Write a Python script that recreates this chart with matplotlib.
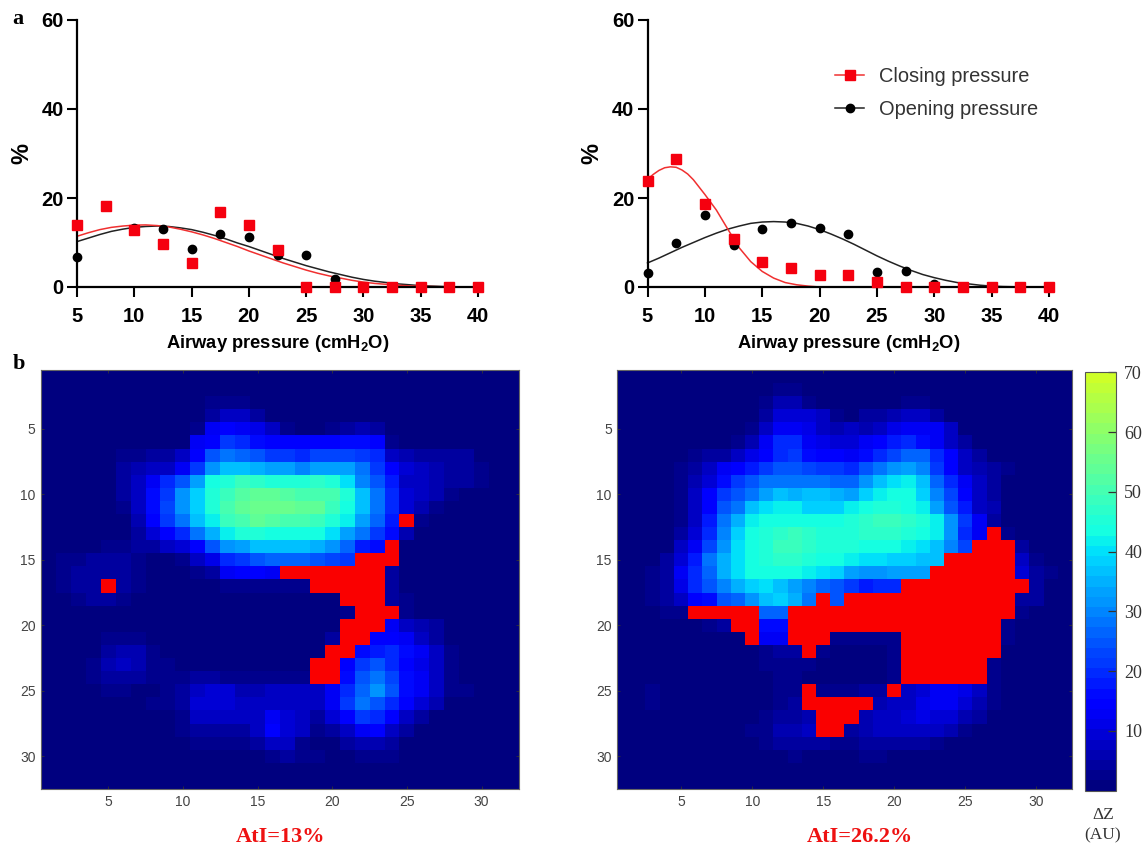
import numpy as np
import matplotlib
matplotlib.use('Agg')
import matplotlib.pyplot as plt
from matplotlib.colors import ListedColormap

W, H = 1146, 850
R = -1  # atelectasis pixel (red)

# a: scatter points
pressure = [5, 7.5, 10, 12.5, 15, 17.5, 20, 22.5, 25, 27.5, 30, 32.5, 35, 37.5, 40]
left_closing = [13.9, 18.2, 12.7, 9.7, 5.5, 16.8, 13.9, 8.3, 0, 0, 0, 0, 0, 0, 0]
left_opening = [6.7, 18.2, 13.2, 13.0, 8.5, 11.9, 11.2, 7.2, 7.3, 1.7, 0, 0, 0, 0, 0]
right_closing = [23.8, 28.8, 18.7, 10.8, 5.7, 4.2, 2.8, 2.8, 1.2, 0, 0, 0, 0, 0, 0]
right_opening = [3.1, 9.8, 16.2, 9.4, 13.0, 14.3, 13.3, 11.9, 3.4, 3.7, 0.6, 0, 0, 0, 0]

# a: fitted curves
curve_x = [5, 6, 7, 8, 9, 10, 11, 12, 13, 14, 15, 16, 17, 18, 19, 20, 21, 22, 23, 24, 25, 26,
           27, 28, 29, 30, 31, 32, 33, 34, 35, 36, 37, 38, 40]
left_closing_fit = [11.4, 12.2, 12.9, 13.4, 13.7, 13.9, 13.95, 13.8, 13.5, 13.0, 12.4, 11.7, 10.9,
                    10.0, 9.1, 8.1, 7.2, 6.3, 5.4, 4.6, 3.8, 3.1, 2.5, 2.0, 1.5, 1.1, 0.8, 0.6,
                    0.4, 0.25, 0.15, 0.1, 0.05, 0, 0]
left_opening_fit = [10.2, 11.0, 11.8, 12.5, 13.0, 13.4, 13.6, 13.7, 13.6, 13.3, 12.9, 12.3, 11.6,
                    10.8, 9.9, 9.1, 8.2, 7.3, 6.4, 5.6, 4.8, 4.1, 3.4, 2.8, 2.2, 1.7, 1.3, 1.0,
                    0.7, 0.5, 0.3, 0.2, 0.1, 0.05, 0]
right_opening_fit = [5.4, 6.5, 7.7, 8.9, 10.0, 11.1, 12.1, 13.0, 13.7, 14.3, 14.6, 14.7, 14.6,
                     14.3, 13.7, 12.9, 11.9, 10.8, 9.6, 8.3, 7.0, 5.8, 4.7, 3.7, 2.8, 2.1, 1.5,
                     1.0, 0.7, 0.4, 0.2, 0.1, 0.05, 0, 0]
right_closing_x = [5, 5.5, 6, 6.5, 7, 7.5, 8, 8.5, 9, 10, 11, 12, 13, 14, 15, 16, 17, 18, 19, 20, 40]
right_closing_fit = [24.2, 25.3, 26.2, 26.8, 27.0, 26.9, 26.3, 25.4, 24.1, 20.8, 17.3, 13.0, 8.8,
                     5.7, 3.5, 2.0, 1.0, 0.5, 0.2, 0, 0]

# b: left map
map_left = [
    [1] * 32,
    [1] * 32,
    [1, 1, 1, 1, 1, 1, 1, 1, 1, 1, 1, 3, 3, 3, 1, 1, 1, 1, 1, 1, 1, 1, 1, 1, 1, 1, 1, 1, 1, 1, 1, 1],
    [1, 1, 1, 1, 1, 1, 1, 1, 1, 1, 1, 5, 7, 7, 5, 1, 1, 1, 1, 1, 1, 1, 1, 1, 1, 1, 1, 1, 1, 1, 1, 1],
    [1, 1, 1, 1, 1, 1, 1, 1, 1, 1, 3, 12, 14, 13, 11, 8, 3, 1, 1, 3, 5, 6, 5, 1, 1, 1, 1, 1, 1, 1, 1, 1],
    [1, 1, 1, 1, 1, 1, 1, 1, 1, 1, 12, 15, 21, 19, 17, 15, 15, 14, 15, 15, 16, 16, 15, 3, 1, 1, 1, 1, 1, 1, 1, 1],
    [1, 1, 1, 1, 1, 3, 3, 4, 5, 8, 15, 25, 28, 26, 25, 22, 22, 20, 23, 23, 23, 22, 19, 7, 6, 5, 5, 4, 4, 1, 1, 1],
    [1, 1, 1, 1, 1, 4, 6, 7, 8, 13, 22, 31, 36, 36, 35, 34, 33, 30, 33, 33, 33, 29, 22, 14, 9, 7, 6, 5, 5, 3, 1, 1],
    [1, 1, 1, 1, 1, 4, 7, 13, 19, 24, 34, 43, 46, 48, 47, 46, 45, 46, 47, 46, 40, 30, 25, 18, 8, 7, 6, 5, 4, 3, 1, 1],
    [1, 1, 1, 1, 1, 4, 8, 16, 21, 31, 39, 45, 49, 52, 53, 53, 52, 51, 50, 50, 45, 36, 28, 19, 10, 7, 6, 3, 1, 1, 1, 1],
    [1, 1, 1, 1, 1, 3, 8, 17, 23, 32, 38, 46, 50, 54, 56, 56, 55, 54, 53, 49, 44, 36, 28, 20, 10, 6, 3, 1, 1, 1, 1, 1],
    [1, 1, 1, 1, 1, 1, 6, 14, 22, 28, 36, 42, 48, 50, 53, 52, 51, 51, 49, 46, 41, 33, 26, 18, R, 3, 1, 1, 1, 1, 1, 1],
    [1, 1, 1, 1, 1, 1, 4, 9, 14, 20, 29, 35, 42, 45, 45, 44, 44, 44, 43, 40, 34, 29, 22, 16, 6, 1, 1, 1, 1, 1, 1, 1],
    [1, 1, 1, 1, 2, 3, 4, 5, 7, 9, 14, 24, 31, 33, 36, 36, 37, 36, 35, 31, 27, 18, 16, R, 1, 1, 1, 1, 1, 1, 1, 1],
    [1, 3, 3, 4, 5, 5, 3, 1, 1, 3, 7, 11, 19, 21, 25, 26, 27, 26, 25, 23, 21, R, R, R, 1, 1, 1, 1, 1, 1, 1, 1],
    [1, 3, 4, 5, 5, 5, 3, 1, 1, 1, 2, 5, 13, 14, 14, 12, R, R, R, R, R, R, R, 5, 1, 1, 1, 1, 1, 1, 1, 1],
    [1, 3, 4, 5, R, 4, 2, 1, 1, 1, 1, 1, 2, 3, 3, 3, 3, 3, R, R, R, R, R, 4, 1, 1, 1, 1, 1, 1, 1, 1],
    [1, 1, 2, 4, 5, 2, 1, 1, 1, 1, 1, 1, 1, 1, 1, 1, 1, 1, 1, 1, R, R, R, 4, 3, 1, 1, 1, 1, 1, 1, 1],
    [1, 1, 1, 1, 1, 1, 1, 1, 1, 1, 1, 1, 1, 1, 1, 1, 1, 1, 1, 1, 3, R, R, R, 2, 1, 1, 1, 1, 1, 1, 1],
    [1, 1, 1, 1, 1, 1, 1, 1, 1, 1, 1, 1, 1, 1, 1, 1, 1, 1, 1, 1, R, R, R, 12, 8, 6, 4, 1, 1, 1, 1, 1],
    [1, 1, 1, 1, 3, 3, 2, 1, 1, 1, 1, 1, 1, 1, 1, 1, 1, 1, 1, 4, R, R, 14, 15, 13, 8, 4, 1, 1, 1, 1, 1],
    [1, 1, 1, 1, 4, 6, 6, 2, 1, 1, 1, 1, 1, 1, 1, 1, 1, 1, 1, R, R, 17, 18, 19, 16, 12, 8, 3, 1, 1, 1, 1],
    [1, 1, 1, 3, 6, 7, 6, 3, 2, 1, 1, 1, 1, 1, 1, 1, 1, 1, R, R, 15, 22, 24, 20, 15, 11, 8, 3, 1, 1, 1, 1],
    [1, 1, 1, 2, 4, 4, 4, 3, 2, 3, 4, 4, 3, 2, 2, 2, 2, 3, R, R, 17, 25, 29, 23, 17, 12, 8, 3, 1, 1, 1, 1],
    [1, 1, 1, 1, 2, 3, 1, 1, 3, 4, 8, 9, 9, 6, 6, 7, 7, 7, 7, 13, 20, 27, 31, 25, 17, 12, 7, 3, 3, 1, 1, 1],
    [1, 1, 1, 1, 1, 1, 1, 2, 3, 5, 9, 10, 9, 7, 7, 8, 8, 7, 7, 12, 21, 28, 25, 20, 14, 9, 6, 1, 1, 1, 1, 1],
    [1, 1, 1, 1, 1, 1, 1, 1, 1, 3, 8, 8, 7, 7, 7, 13, 9, 7, 5, 9, 15, 21, 20, 14, 8, 4, 1, 1, 1, 1, 1, 1],
    [1, 1, 1, 1, 1, 1, 1, 1, 1, 2, 5, 5, 5, 5, 8, 15, 9, 7, 3, 4, 7, 13, 15, 8, 4, 1, 1, 1, 1, 1, 1, 1],
    [1, 1, 1, 1, 1, 1, 1, 1, 1, 1, 3, 3, 2, 3, 5, 8, 7, 3, 1, 1, 4, 6, 6, 5, 1, 1, 1, 1, 1, 1, 1, 1],
    [1, 1, 1, 1, 1, 1, 1, 1, 1, 1, 1, 1, 1, 1, 1, 3, 4, 3, 2, 1, 1, 2, 3, 2, 1, 1, 1, 1, 1, 1, 1, 1],
    [1] * 32,
    [1] * 32,
]

# b: right map
map_right = [
    [1] * 32,
    [1, 1, 1, 1, 1, 1, 1, 1, 1, 1, 1, 2, 2, 1, 1, 1, 1, 1, 1, 1, 1, 1, 1, 1, 1, 1, 1, 1, 1, 1, 1, 1],
    [1, 1, 1, 1, 1, 1, 1, 1, 1, 1, 3, 6, 6, 3, 1, 1, 1, 1, 1, 1, 3, 3, 1, 1, 1, 1, 1, 1, 1, 1, 1, 1],
    [1, 1, 1, 1, 1, 1, 1, 1, 1, 1, 5, 9, 9, 9, 7, 3, 1, 4, 5, 6, 7, 7, 4, 1, 1, 1, 1, 1, 1, 1, 1, 1],
    [1, 1, 1, 1, 1, 1, 1, 1, 1, 3, 8, 13, 13, 11, 7, 6, 7, 6, 8, 11, 13, 12, 13, 7, 1, 1, 1, 1, 1, 1, 1, 1],
    [1, 1, 1, 1, 1, 1, 1, 1, 2, 6, 12, 19, 19, 13, 11, 10, 9, 12, 14, 18, 19, 17, 12, 7, 4, 1, 1, 1, 1, 1, 1, 1],
    [1, 1, 1, 1, 1, 3, 4, 4, 7, 11, 15, 20, 21, 17, 15, 14, 13, 16, 19, 23, 26, 26, 20, 14, 8, 4, 1, 1, 1, 1, 1, 1],
    [1, 1, 1, 1, 2, 5, 8, 13, 14, 18, 21, 24, 25, 23, 22, 21, 20, 25, 28, 32, 33, 30, 22, 14, 8, 6, 4, 2, 1, 1, 1, 1],
    [1, 1, 1, 1, 2, 6, 10, 17, 21, 24, 28, 28, 29, 28, 28, 27, 27, 31, 36, 40, 41, 36, 27, 20, 12, 7, 4, 1, 1, 1, 1, 1],
    [1, 1, 1, 1, 2, 7, 14, 22, 24, 29, 34, 36, 35, 36, 36, 35, 33, 39, 42, 43, 43, 39, 30, 23, 15, 8, 5, 1, 1, 1, 1, 1],
    [1, 1, 1, 1, 2, 7, 15, 24, 29, 37, 40, 41, 41, 39, 38, 38, 41, 44, 45, 45, 44, 42, 34, 25, 18, 8, 6, 1, 1, 1, 1, 1],
    [1, 1, 1, 1, 3, 8, 18, 28, 35, 42, 44, 44, 44, 44, 44, 44, 45, 47, 48, 48, 47, 45, 41, 31, 21, 12, 4, 1, 1, 1, 1, 1],
    [1, 1, 1, 1, 4, 9, 19, 30, 38, 44, 45, 47, 48, 47, 46, 46, 46, 47, 47, 47, 45, 43, 41, 32, 19, 13, R, 3, 1, 1, 1, 1],
    [1, 1, 1, 1, 7, 13, 23, 32, 40, 44, 46, 49, 49, 47, 46, 45, 45, 43, 44, 43, 42, 40, 36, 30, 23, R, R, R, 5, 1, 1, 1],
    [1, 1, 1, 4, 10, 18, 28, 35, 40, 44, 46, 47, 47, 45, 44, 43, 42, 40, 40, 39, 38, 37, 37, R, R, R, R, R, 8, 3, 1, 1],
    [1, 1, 2, 4, 12, 20, 27, 35, 40, 43, 44, 44, 43, 41, 40, 38, 34, 31, 32, 33, 34, 34, R, R, R, R, R, R, 9, 4, 3, 1],
    [1, 1, 3, 5, 11, 19, 24, 30, 35, 38, 40, 37, 34, 30, 27, 25, 21, 18, 19, 20, R, R, R, R, R, R, R, R, R, 4, 1, 1],
    [1, 1, 3, 4, 8, 14, 16, 24, 27, 31, 36, 38, 35, 28, R, 25, R, R, R, R, R, R, R, R, R, R, R, R, 5, 4, 1, 1],
    [1, 1, 1, 2, 3, R, R, R, R, R, 26, 26, R, R, R, R, R, R, R, R, R, R, R, R, R, R, R, R, 3, 1, 1, 1],
    [1, 1, 1, 1, 1, 1, 2, 4, R, R, 17, 17, R, R, R, R, R, R, R, R, R, R, R, R, R, R, R, 3, 1, 1, 1, 1],
    [1, 1, 1, 1, 1, 1, 1, 1, 1, R, 12, 13, R, R, R, 3, 3, 2, 2, 3, R, R, R, R, R, R, R, 3, 1, 1, 1, 1],
    [1, 1, 1, 1, 1, 1, 1, 1, 1, 1, 3, 4, 4, R, 3, 1, 1, 1, 1, 3, R, R, R, R, R, R, R, 1, 1, 1, 1, 1],
    [1, 1, 1, 1, 1, 1, 1, 1, 1, 1, 2, 3, 2, 2, 1, 1, 1, 1, 1, 3, R, R, R, R, R, R, 3, 1, 1, 1, 1, 1],
    [1, 1, 1, 1, 1, 1, 1, 1, 1, 1, 1, 2, 3, 1, 1, 1, 1, 1, 1, 3, R, R, R, R, R, R, 2, 1, 1, 1, 1, 1],
    [1, 1, 3, 1, 1, 1, 1, 1, 1, 1, 1, 2, 3, R, 2, 3, 3, 4, 5, R, 8, 10, 13, 13, 11, 7, 3, 1, 1, 1, 1, 1],
    [1, 1, 3, 1, 1, 1, 1, 1, 1, 1, 1, 3, 4, R, R, R, R, R, 6, 7, 8, 11, 13, 13, 10, 6, 2, 1, 1, 1, 1, 1],
    [1, 1, 1, 1, 1, 1, 1, 1, 1, 1, 3, 4, 5, 6, R, R, R, 6, 8, 8, 9, 11, 10, 9, 6, 4, 1, 1, 1, 1, 1, 1],
    [1, 1, 1, 1, 1, 1, 1, 1, 1, 2, 3, 6, 6, 7, R, R, 5, 6, 7, 8, 8, 8, 8, 6, 3, 1, 1, 1, 1, 1, 1, 1],
    [1, 1, 1, 1, 1, 1, 1, 1, 1, 1, 3, 4, 5, 5, 5, 3, 3, 5, 5, 5, 4, 4, 3, 1, 1, 1, 1, 1, 1, 1, 1, 1],
    [1, 1, 1, 1, 1, 1, 1, 1, 1, 1, 1, 1, 2, 1, 1, 1, 1, 2, 2, 1, 1, 1, 1, 1, 1, 1, 1, 1, 1, 1, 1, 1],
    [1] * 32,
    [1] * 32,
]

map_ticks = [5, 10, 15, 20, 25, 30]
bar_ticks = [10, 20, 30, 40, 50, 60, 70]


def axes_px(fig, left, top, right, bottom):
    return fig.add_axes([left / W, 1 - bottom / H, (right - left) / W, (bottom - top) / H])


def plot_curves(ax, closing, opening, closing_x, closing_fit, opening_fit):
    ax.plot(curve_x, opening_fit, color='#222222', lw=1.1, clip_on=False)
    ax.plot(pressure, opening, 'o', color='black', ms=6, clip_on=False, zorder=3)
    ax.plot(closing_x, closing_fit, color='#f03030', lw=1.1, clip_on=False)
    ax.plot(pressure, closing, 's', color='#f5000f', ms=6.5, clip_on=False, zorder=4)
    ax.set_xlim(5, 40)
    ax.set_ylim(0, 60)
    ax.set_xticks(range(5, 41, 5))
    ax.set_yticks([0, 20, 40, 60])
    ax.spines[['top', 'right']].set_visible(False)
    ax.spines[['left', 'bottom']].set_linewidth(1.6)
    ax.tick_params(width=1.5, length=7.5, labelsize=14.5)
    ax.tick_params(axis='x', pad=7)
    ax.tick_params(axis='y', pad=2)
    for t in ax.get_xticklabels() + ax.get_yticklabels():
        t.set_fontweight('bold')
    ax.set_xlabel('Airway pressure (cmH$_\\mathbf{2}$O)', fontweight='bold', fontsize=13.2, labelpad=5)
    ax.set_ylabel('%', fontweight='bold', fontsize=17, labelpad=6)


def plot_map(ax, values, cmap):
    im = ax.imshow(np.array(values), cmap=cmap, vmin=0, vmax=70, aspect='auto',
                   interpolation='nearest', extent=(0.5, 32.5, 32.5, 0.5))
    ax.set_xticks(map_ticks)
    ax.set_yticks(map_ticks)
    ax.tick_params(direction='in', length=2.5, width=0.6, top=True, right=True, labelsize=10,
                   labelcolor='#444444', color='#333333', pad=4)
    for s in ax.spines.values():
        s.set_color('#666666')
        s.set_linewidth(0.8)
    return im


plt.rcParams['font.family'] = ['Liberation Sans', 'DejaVu Sans']
plt.rcParams['mathtext.fontset'] = 'custom'
plt.rcParams['mathtext.bf'] = 'Liberation Sans:bold'
plt.rcParams['mathtext.rm'] = 'Liberation Sans'

cmap = ListedColormap(plt.get_cmap('jet')(np.linspace(0, 0.6, 41)))
cmap.set_under('#fa0000')

fig = plt.figure(figsize=(W / 100, H / 100), dpi=100)

ax1 = axes_px(fig, 77, 20, 478, 287)
plot_curves(ax1, left_closing, left_opening, curve_x, left_closing_fit, left_opening_fit)

ax2 = axes_px(fig, 647.5, 20, 1049, 287)
plot_curves(ax2, right_closing, right_opening, right_closing_x, right_closing_fit, right_opening_fit)
h_close, = ax2.plot([], [], '-s', color='#f03030', mfc='#f5000f', mec='#f5000f', lw=1.1, ms=6.5)
h_open, = ax2.plot([], [], '-o', color='#222222', mfc='black', mec='black', lw=1.1, ms=6)
ax2.legend([h_close, h_open], ['Closing pressure', 'Opening pressure'], loc='upper left',
           bbox_to_anchor=(835 / W, 1 - 67 / H), bbox_transform=fig.transFigure, frameon=False,
           fontsize=14.4, labelcolor='#333333', handlelength=1.45, handletextpad=0.75,
           labelspacing=0.7, borderpad=0, borderaxespad=0)

ax3 = axes_px(fig, 41, 370, 519, 789)
im = plot_map(ax3, map_left, cmap)

ax4 = axes_px(fig, 617.3, 370, 1071.7, 789)
plot_map(ax4, map_right, cmap)

cax = axes_px(fig, 1084.5, 372.5, 1116, 790.5)
cb = fig.colorbar(im, cax=cax, extend='neither')
cb.set_ticks(bar_ticks)
cb.outline.set_edgecolor('#555555')
cb.outline.set_linewidth(0.8)
cax.tick_params(direction='in', length=6, width=0.9, color='#333333', pad=6, labelsize=13,
                labelcolor='#333333')
for t in cax.get_yticklabels():
    t.set_fontfamily('Liberation Serif')

fig.text(12 / W, 1 - 19 / H, 'a', family='Liberation Serif', fontweight='bold', fontsize=16, va='center')
fig.text(13 / W, 1 - 364 / H, 'b', family='Liberation Serif', fontweight='bold', fontsize=16, va='center')
fig.text(281 / W, 1 - 837 / H, 'AtI=13%', family='Liberation Serif', fontweight='bold', color='#ee1111',
         fontsize=16, ha='center', va='center')
fig.text(860 / W, 1 - 837 / H, 'AtI=26.2%', family='Liberation Serif', fontweight='bold', color='#ee1111',
         fontsize=16, ha='center', va='center')
fig.text(1103 / W, 1 - 815 / H, '\u0394Z', family='Liberation Serif', color='#333333', fontsize=12.5,
         ha='center', va='center')
fig.text(1103 / W, 1 - 835 / H, '(AU)', family='Liberation Serif', color='#333333', fontsize=12.5,
         ha='center', va='center')

fig.savefig('out.png', dpi=100)
